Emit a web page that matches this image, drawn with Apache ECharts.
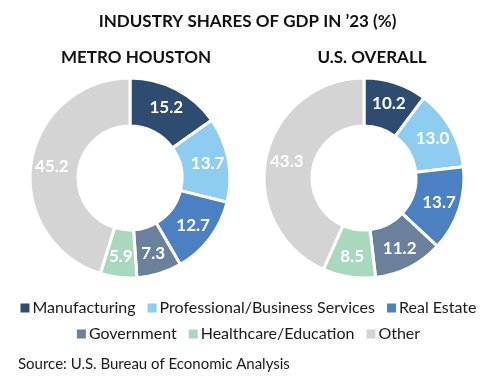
<!DOCTYPE html>
<html><head><meta charset="utf-8">
<script src="https://cdn.jsdelivr.net/npm/echarts@6/dist/echarts.min.js"></script>
<style>html,body{margin:0;padding:0;background:#fff}#c{width:495px;height:380px}</style>
</head><body><div id="c"></div>
<script>
const categories = ['Manufacturing', 'Professional/Business Services', 'Real Estate', 'Government', 'Healthcare/Education', 'Other'];
const houston = [15.2, 13.7, 12.7, 7.3, 5.9, 45.2];
const usOverall = [10.2, 13.0, 13.7, 11.2, 8.5, 43.3];
const colors = ['#2E4B70', '#8FCDF0', '#4B80C2', '#6B819B', '#A8D9BF', '#D4D4D4'];
const FONT = 'Lato';

function pie(center, values) {
  return {
    type: 'pie', center: center, radius: [52, 100], startAngle: 90, clockwise: true,
    avoidLabelOverlap: false,
    itemStyle: { borderColor: '#fff', borderWidth: 3 },
    label: { show: true, position: 'inside', color: '#fff', fontFamily: FONT, fontWeight: 'bold', fontSize: 17,
      formatter: p => p.value.toFixed(1) },
    labelLine: { show: false },
    emphasis: { disabled: true },
    data: categories.map((c, i) => ({ name: c, value: values[i], itemStyle: { color: colors[i] } }))
  };
}

const chart = echarts.init(document.getElementById('c'), null, { renderer: 'canvas' });
const legendCommon = { itemWidth: 11, itemHeight: 11, itemGap: 10, icon: 'rect',
  textStyle: { fontFamily: FONT, fontSize: 16, color: '#1a1a1a', padding: [0, 0, 0, -3] } };
chart.setOption({
  animation: false,
  title: [
    { text: 'INDUSTRY SHARES OF GDP IN ’23 (%)', left: 'center', top: 8,
      textStyle: { fontFamily: FONT, fontWeight: 'bold', fontSize: 17, color: '#111' } },
    { text: 'METRO HOUSTON', left: 131, top: 44, textAlign: 'center',
      textStyle: { fontFamily: FONT, fontWeight: 'bold', fontSize: 17, color: '#111' } },
    { text: 'U.S. OVERALL', left: 367, top: 44, textAlign: 'center',
      textStyle: { fontFamily: FONT, fontWeight: 'bold', fontSize: 17, color: '#111' } },
    { text: 'Source: U.S. Bureau of Economic Analysis', left: 13, top: 352,
      textStyle: { fontFamily: FONT, fontWeight: 'normal', fontSize: 15, color: '#1a1a1a' } }
  ],
  legend: [
    Object.assign({}, legendCommon, { data: categories.slice(0, 3), left: 'center', top: 295 }),
    Object.assign({}, legendCommon, { data: categories.slice(3), left: 'center', top: 321 })
  ],
  series: [pie([130, 178], houston), pie([364, 178], usOverall)]
});
</script></body></html>
